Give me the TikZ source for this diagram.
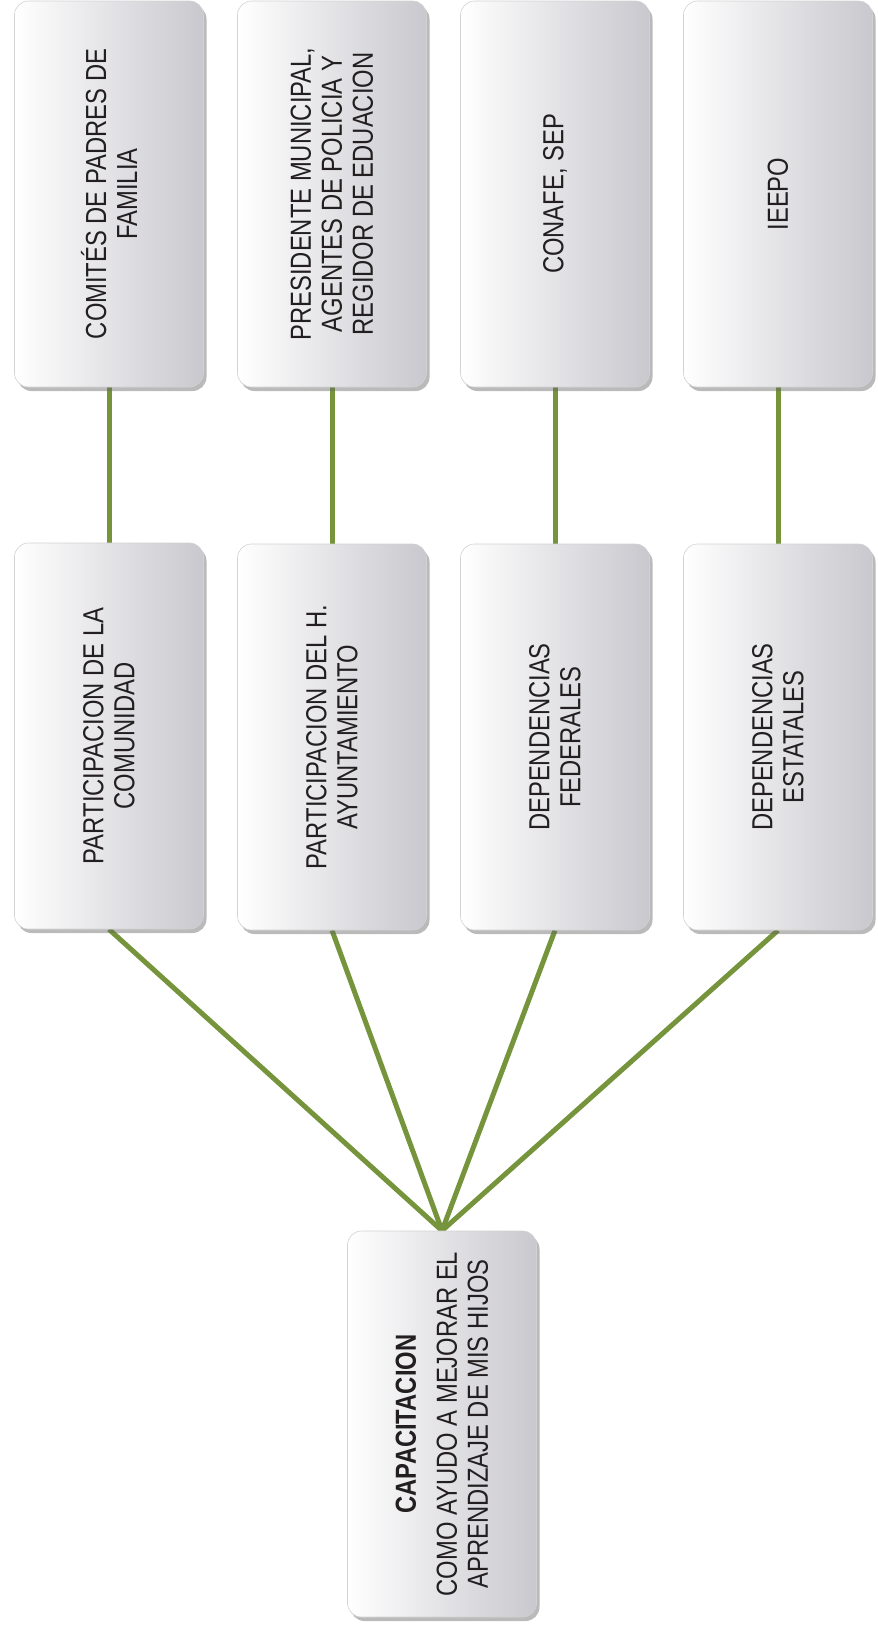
\documentclass[tikz,border=0pt]{standalone}
\usepackage{fontspec}
\setmainfont{Liberation Sans}[FakeStretch=0.82]
\usetikzlibrary{shadows,backgrounds}

\definecolor{olivegreen}{RGB}{118,148,60}
\definecolor{boxgray}{RGB}{200,200,206}
\definecolor{inkgray}{RGB}{35,31,32}

\tikzset{every picture/.style={line width=0.75pt}}
\tikzset{
  cardbox/.style={rounded corners=14pt, minimum width=189pt, minimum height=386pt, inner sep=0pt,
    left color=white, right color=boxgray, draw=gray!35, line width=0.6pt, text=inkgray,
    drop shadow={shadow xshift=3pt, shadow yshift=-4pt, opacity=0.45, fill=black!60}},
  link/.style={draw=olivegreen, line width=5pt}
}
\newcommand{\cardtext}[1]{\rotatebox{90}{\parbox{370pt}{\centering\fontsize{29}{31}\selectfont #1}}}

\begin{document}
\begin{tikzpicture}[x=1pt,y=1pt,yscale=-1,xscale=1]
\useasboundingbox (0,0) rectangle (878,1633);

%Shape: Rounded Rect, top row
\node [cardbox] (comites) at (109,194) {\cardtext{COMITÉS DE PADRES DE\\FAMILIA}};
\node [cardbox] (presidente) at (332,194) {\cardtext{PRESIDENTE MUNICIPAL,\\AGENTES DE POLICIA Y\\REGIDOR DE EDUACION}};
\node [cardbox] (conafe) at (555,194) {\cardtext{CONAFE, SEP}};
\node [cardbox] (ieepo) at (778,194) {\cardtext{IEEPO}};

%Shape: Rounded Rect, middle row
\node [cardbox] (comunidad) at (109,736) {\cardtext{PARTICIPACION DE LA\\COMUNIDAD}};
\node [cardbox] (ayuntamiento) at (332,737) {\cardtext{PARTICIPACION DEL H.\\AYUNTAMIENTO}};
\node [cardbox] (federales) at (555,737) {\cardtext{DEPENDENCIAS\\FEDERALES}};
\node [cardbox] (estatales) at (778,737) {\cardtext{DEPENDENCIAS\\ESTATALES}};

%Shape: Rounded Rect, bottom
\node [cardbox] (capacitacion) at (442,1424) {\cardtext{{\bfseries CAPACITACION}\\[10pt]COMO AYUDO A MEJORAR EL\\APRENDIZAJE DE MIS HIJOS}};

%Straight Lines
\begin{scope}[on background layer]
\draw [link] (comites.south) -- (comunidad.north);
\draw [link] (presidente.south) -- (ayuntamiento.north);
\draw [link] (conafe.south) -- (federales.north);
\draw [link] (ieepo.south) -- (estatales.north);
\draw [link] (comunidad.south) -- (capacitacion.north);
\draw [link] (ayuntamiento.south) -- (capacitacion.north);
\draw [link] (federales.south) -- (capacitacion.north);
\draw [link] (estatales.south) -- (capacitacion.north);
\end{scope}

\end{tikzpicture}
\end{document}
